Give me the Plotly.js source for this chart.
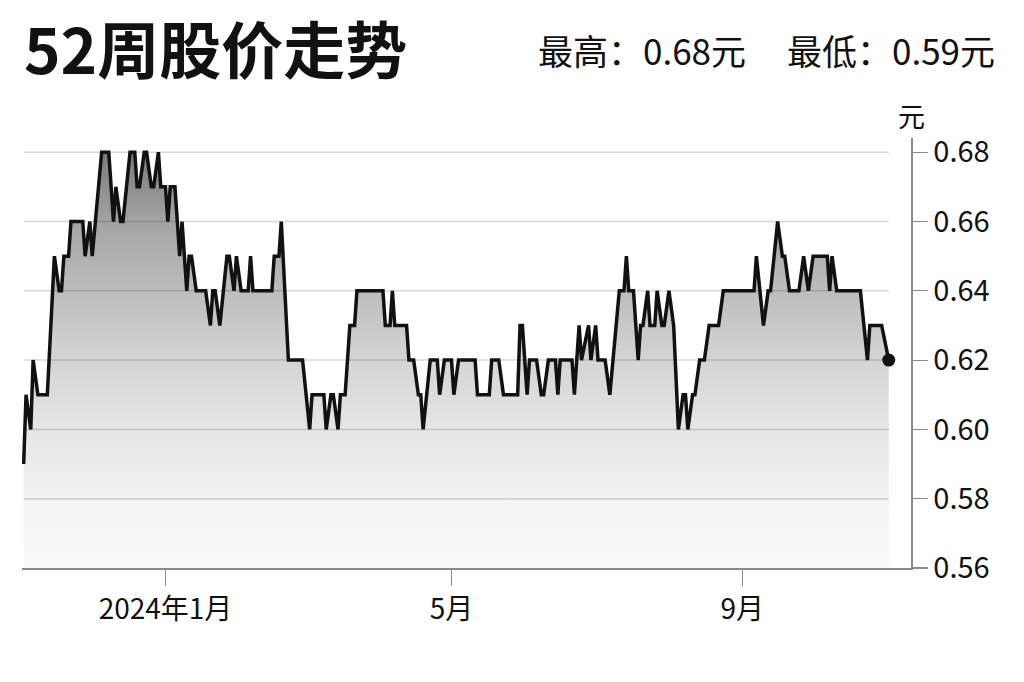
<!DOCTYPE html>
<html>
<head>
<meta charset="utf-8">
<script src="https://cdn.plot.ly/plotly-3.0.1.min.js"></script>
<style>
html,body{margin:0;padding:0;background:#fff;}
#chart{width:1024px;height:682px;}
</style>
</head>
<body>
<div id="chart"></div>
<script>
// ---- data ----
const dates = [
'2023-11-02','2023-11-03','2023-11-05','2023-11-06','2023-11-08','2023-11-12','2023-11-15','2023-11-17','2023-11-18','2023-11-19',
'2023-11-21','2023-11-22','2023-11-27','2023-11-28','2023-11-30','2023-12-01','2023-12-05','2023-12-08','2023-12-10','2023-12-11',
'2023-12-13','2023-12-14','2023-12-17','2023-12-19','2023-12-20','2023-12-21','2023-12-23','2023-12-24','2023-12-26','2023-12-27',
'2023-12-29','2023-12-30','2024-01-01','2024-01-02','2024-01-03','2024-01-05','2024-01-07','2024-01-08','2024-01-10','2024-01-11',
'2024-01-12','2024-01-14','2024-01-18','2024-01-20','2024-01-21','2024-01-22','2024-01-24','2024-01-27','2024-01-28','2024-01-30',
'2024-01-31','2024-02-02','2024-02-05','2024-02-06','2024-02-07','2024-02-15','2024-02-16','2024-02-18','2024-02-19','2024-02-22',
'2024-02-28','2024-03-02','2024-03-03','2024-03-08','2024-03-09','2024-03-11','2024-03-12','2024-03-14','2024-03-15','2024-03-17',
'2024-03-19','2024-03-21','2024-03-22','2024-04-02','2024-04-03','2024-04-05','2024-04-06','2024-04-07','2024-04-12','2024-04-13',
'2024-04-15','2024-04-17','2024-04-18','2024-04-19','2024-04-22','2024-04-25','2024-04-26','2024-04-28','2024-05-01','2024-05-02',
'2024-05-04','2024-05-11','2024-05-12','2024-05-17','2024-05-18','2024-05-21','2024-05-23','2024-05-29','2024-05-30','2024-05-31',
'2024-06-02','2024-06-03','2024-06-06','2024-06-08','2024-06-09','2024-06-11','2024-06-14','2024-06-15','2024-06-16','2024-06-21',
'2024-06-22','2024-06-24','2024-06-25','2024-06-28','2024-06-29','2024-07-01','2024-07-02','2024-07-05','2024-07-07','2024-07-11',
'2024-07-13','2024-07-14','2024-07-15','2024-07-17','2024-07-19','2024-07-20','2024-07-21','2024-07-23','2024-07-24','2024-07-26',
'2024-07-27','2024-07-29','2024-07-30','2024-08-01','2024-08-03','2024-08-05','2024-08-07','2024-08-08','2024-08-09','2024-08-11',
'2024-08-12','2024-08-14','2024-08-16','2024-08-18','2024-08-22','2024-08-24','2024-09-06','2024-09-07','2024-09-10','2024-09-12',
'2024-09-13','2024-09-16','2024-09-18','2024-09-19','2024-09-21','2024-09-25','2024-09-27','2024-09-29','2024-10-01','2024-10-07',
'2024-10-08','2024-10-09','2024-10-11','2024-10-21','2024-10-24','2024-10-25','2024-10-30','2024-11-02'
];
const prices = [
0.59,0.61,0.60,0.62,0.61,0.61,0.65,0.64,0.64,0.65,
0.65,0.66,0.66,0.65,0.66,0.65,0.68,0.68,0.66,0.67,
0.66,0.66,0.68,0.68,0.67,0.67,0.68,0.68,0.67,0.67,
0.68,0.67,0.67,0.66,0.67,0.67,0.65,0.66,0.64,0.65,
0.65,0.64,0.64,0.63,0.64,0.64,0.63,0.65,0.65,0.64,
0.65,0.64,0.64,0.65,0.64,0.64,0.65,0.65,0.66,0.62,
0.62,0.60,0.61,0.61,0.60,0.61,0.61,0.60,0.61,0.61,
0.63,0.63,0.64,0.64,0.63,0.63,0.64,0.63,0.63,0.62,
0.62,0.61,0.61,0.60,0.62,0.62,0.61,0.62,0.62,0.61,
0.62,0.62,0.61,0.61,0.62,0.62,0.61,0.61,0.63,0.63,
0.61,0.62,0.62,0.61,0.61,0.62,0.62,0.61,0.62,0.62,
0.61,0.63,0.62,0.63,0.62,0.63,0.62,0.62,0.61,0.64,
0.64,0.65,0.64,0.64,0.62,0.63,0.63,0.64,0.63,0.63,
0.64,0.63,0.63,0.64,0.63,0.60,0.61,0.61,0.60,0.61,
0.61,0.62,0.62,0.63,0.63,0.64,0.64,0.65,0.63,0.64,
0.64,0.66,0.65,0.65,0.64,0.64,0.65,0.64,0.65,0.65,
0.64,0.65,0.64,0.64,0.62,0.63,0.63,0.62
];
const yTicks = [0.56, 0.58, 0.60, 0.62, 0.64, 0.66, 0.68];
const xTickVals = ['2024-01-01', '2024-05-01', '2024-09-01'];
const xTickText = ['2024年1月', '5月', '9月'];
const titleText = '52周股价走势';
const unitText = '元';

// ---- derived ----
const highVal = Math.max(...prices);
const lowVal = Math.min(...prices);
const lastDate = dates[dates.length - 1];
const lastPrice = prices[prices.length - 1];

const FONT = "'Noto Sans CJK SC', 'Noto Sans', sans-serif";

const gridShapes = yTicks.slice(1).map(v => ({
  type: 'line', xref: 'x', yref: 'y',
  x0: dates[0], x1: lastDate, y0: v, y1: v,
  line: {color: '#d8d8d8', width: 1.5}, layer: 'below'
}));

const traces = [
  {
    x: dates, y: prices, type: 'scatter', mode: 'lines',
    line: {color: '#111111', width: 3.5, shape: 'linear'},
    fill: 'tozeroy',
    fillgradient: {
      type: 'vertical', start: 0.56, stop: 0.68,
      colorscale: [
        [0.00, 'rgba(0,0,0,0.02)'],
        [0.1667, 'rgba(0,0,0,0.05)'],
        [0.3333, 'rgba(0,0,0,0.10)'],
        [0.50, 'rgba(0,0,0,0.17)'],
        [0.6667, 'rgba(0,0,0,0.26)'],
        [0.8333, 'rgba(0,0,0,0.36)'],
        [1.00, 'rgba(0,0,0,0.52)']
      ]
    },
    hoverinfo: 'skip'
  },
  {
    x: [lastDate], y: [lastPrice], type: 'scatter', mode: 'markers',
    marker: {color: '#111111', size: 13},
    hoverinfo: 'skip'
  }
];

const layout = {
  width: 1024, height: 682,
  margin: {l: 22, r: 113, t: 138, b: 114},
  paper_bgcolor: '#ffffff', plot_bgcolor: '#ffffff',
  showlegend: false,
  font: {family: FONT, color: '#111111'},
  title: {
    text: titleText,
    font: {family: FONT, size: 62, weight: 'bold', color: '#111111'},
    xref: 'container', yref: 'container',
    x: 24 / 1024, xanchor: 'left',
    y: 1 - 52 / 682, yanchor: 'middle'
  },
  xaxis: {
    type: 'date',
    range: ['2023-11-01 07:00', '2024-11-11 10:00'],
    showgrid: false, zeroline: false,
    showline: true, linecolor: '#8a8a8a', linewidth: 1.5,
    ticks: 'outside', ticklen: 16, tickcolor: '#8a8a8a', tickwidth: 1.2,
    tickvals: xTickVals, ticktext: xTickText,
    tickfont: {family: FONT, size: 28, color: '#111111'},
    fixedrange: true
  },
  yaxis: {
    side: 'right',
    range: [0.56, 0.6841],
    showgrid: false, zeroline: false,
    showline: true, linecolor: '#8a8a8a', linewidth: 1.5,
    ticks: 'outside', ticklen: 15, tickcolor: '#8a8a8a', tickwidth: 1.2,
    tickvals: yTicks, ticktext: yTicks.map(v => v.toFixed(2)),
    tickfont: {family: FONT, size: 29, color: '#111111'},
    fixedrange: true
  },
  shapes: gridShapes,
  annotations: [
    {
      text: unitText, xref: 'paper', yref: 'paper',
      x: 1, y: 1 + (138 - 115) / 430, xanchor: 'center', yanchor: 'middle',
      showarrow: false, font: {family: FONT, size: 27, color: '#111111'}
    },
    {
      text: '最高：' + highVal.toFixed(2) + '元', xref: 'paper', yref: 'paper',
      x: (536 - 22) / 889, y: (568 - 50) / 430, xanchor: 'left', yanchor: 'middle',
      showarrow: false, font: {family: FONT, size: 35, color: '#111111'}
    },
    {
      text: '最低：' + lowVal.toFixed(2) + '元', xref: 'paper', yref: 'paper',
      x: (785 - 22) / 889, y: (568 - 50) / 430, xanchor: 'left', yanchor: 'middle',
      showarrow: false, font: {family: FONT, size: 35, color: '#111111'}
    }
  ]
};

Plotly.newPlot('chart', traces, layout, {displayModeBar: false, staticPlot: true});
</script>
</body>
</html>
